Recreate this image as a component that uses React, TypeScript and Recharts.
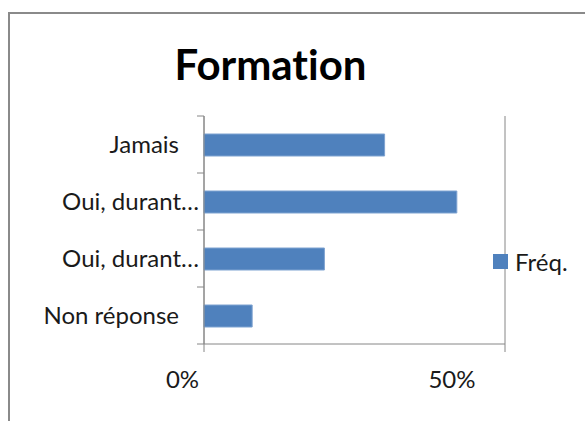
import React from 'react';
import { BarChart, Bar, XAxis, YAxis, CartesianGrid } from 'recharts';

const categories = ['Jamais', 'Oui, durant…', 'Oui, durant…', 'Non réponse'];
const frequencies = [0.30, 0.42, 0.20, 0.08];
const xTicks = [0, 0.5];
const xTickLabels = ['0%', '50%'];
// category boundaries on the index scale (0 .. n-1)
const separatorTicks = [0, 0.75, 1.5, 2.25, 3];
const seriesName = 'Fréq.';
const title = 'Formation';

const data = categories.map((c, i) => ({ id: `${i}`, cat: c, freq: frequencies[i] }));

const FONT = 'Lato, "Liberation Sans", sans-serif';
const AXIS = '#868686';
const BLUE = '#4F81BD';

const YTick = (props: any) => {
  const { x, y, payload } = props;
  const label = categories[Number(payload.value)] ?? '';
  const truncated = label.endsWith('…');
  return (
    <text x={x - 16 + (truncated ? 20 : 0)} y={y + 8.5} textAnchor="end" fill="#1a1a1a" fontSize={24} fontFamily={FONT}>
      {label}
    </text>
  );
};

const XTick = (props: any) => {
  const { x, y, payload, index } = props;
  const shift = -21.5 - payload.value * 63;
  return (
    <text x={x + shift} y={y + 34} textAnchor="middle" fill="#1a1a1a" fontSize={24} fontFamily={FONT}>
      {xTickLabels[index]}
    </text>
  );
};

const EmptyTick = () => <g />;

export default function App() {
  return (
    <div style={{ position: 'absolute', left: 0, top: 0, width: 585, height: 421, background: '#fff', overflow: 'hidden' }}>
      <div style={{ position: 'absolute', left: 8, top: 12, width: 640, height: 480, border: '2px solid #8a8a8a' }} />
      <div style={{ position: 'absolute', left: 0, top: 36, width: 541, textAlign: 'center', fontFamily: FONT, fontWeight: 700, fontSize: 42, color: '#000', lineHeight: '56px', fontVariantLigatures: 'none' }}>
        {title}
      </div>
      <div style={{ position: 'absolute', left: 0, top: 0 }}>
        <BarChart
          width={585}
          height={421}
          data={data}
          layout="vertical"
          margin={{ top: 116, right: 80, bottom: 47, left: 0 }}
          barSize={22}
        >
          <CartesianGrid horizontal={false} vertical={true} stroke={AXIS} strokeWidth={1} />
          <XAxis
            type="number"
            domain={[0, 0.5]}
            ticks={xTicks}
            tick={<XTick />}
            tickSize={8}
            height={30}
            stroke={AXIS}
            axisLine={{ stroke: AXIS }}
            tickLine={{ stroke: AXIS }}
          />
          <YAxis
            yAxisId={0}
            type="number"
            domain={[0, 3]}
            allowDataOverflow
            ticks={separatorTicks}
            interval={0}
            width={1}
            tick={<EmptyTick />}
            tickSize={7}
            axisLine={{ stroke: AXIS }}
            tickLine={{ stroke: AXIS }}
          />
          <YAxis
            yAxisId={1}
            type="category"
            dataKey="id"
            width={203}
            tickLine={false}
            axisLine={false}
            tick={<YTick />}
            interval={0}
          />
          <Bar yAxisId={1} dataKey="freq" name={seriesName} fill={BLUE} stroke="#7fa3d1" strokeWidth={1} isAnimationActive={false} />
        </BarChart>
      </div>
      <div style={{ position: 'absolute', left: 493, top: 247, display: 'flex', alignItems: 'center', fontFamily: FONT, fontSize: 24, color: '#1a1a1a' }}>
        <div style={{ width: 15, height: 15, background: BLUE, marginRight: 7 }} />
        <span>{seriesName}</span>
      </div>
    </div>
  );
}
